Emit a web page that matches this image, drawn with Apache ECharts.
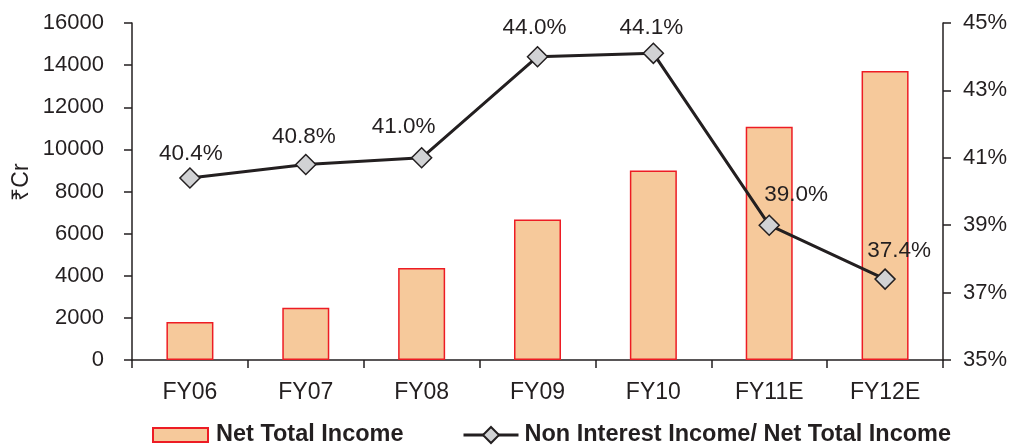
<!DOCTYPE html>
<html>
<head>
<meta charset="utf-8">
<title>Net Total Income and Non Interest Income share</title>
<script src="https://cdn.jsdelivr.net/npm/echarts@6/dist/echarts.min.js"></script>
<style>
  html, body { margin: 0; padding: 0; background: #ffffff; }
  #chart { width: 1028px; height: 447px; }
</style>
</head>
<body>
<div id="chart"></div>
<script>
// Fiscal years (E = estimate)
const categories = ['FY06', 'FY07', 'FY08', 'FY09', 'FY10', 'FY11E', 'FY12E'];
// Net Total Income, ₹ crore
const netTotalIncome = [1800, 2480, 4370, 6670, 9000, 11080, 13720];
// Non Interest Income as a share of Net Total Income, %
const nonInterestShare = [40.4, 40.8, 41.0, 44.0, 44.1, 39.0, 37.4];
// Right axis tick values, %
const shareTicks = [35, 37, 39, 41, 43, 45];

const FONT = '"Liberation Sans", Arial, Helvetica, sans-serif';
const INK = '#231f20';

// hand-placed label nudges for the ratio line, [dx, dy] from each point
const labelNudges = [[1, -24], [-2, -28], [-18, -31], [-3, -29], [-2, -26], [27, -30], [14, -28]];

const chart = echarts.init(document.getElementById('chart'), null, { renderer: 'canvas' });

const legendText = { fontFamily: FONT, fontSize: 23.5, fontWeight: 'bold', color: INK, lineHeight: 24 };

chart.setOption({
  animation: false,
  backgroundColor: '#ffffff',
  textStyle: { fontFamily: FONT, color: INK },
  grid: { left: 132, right: 85, top: 23, bottom: 87, containLabel: false },
  legend: [
    {
      data: [{ name: 'Net Total Income', icon: 'rect' }],
      left: 152, top: 423, padding: 0,
      itemWidth: 55, itemHeight: 14,
      textStyle: Object.assign({ padding: [0, 0, 0, 3] }, legendText)
    },
    {
      data: ['Non Interest Income/ Net Total Income'],
      left: 462, top: 423, padding: 0,
      itemWidth: 55, itemHeight: 20,
      lineStyle: { width: 3 },
      textStyle: Object.assign({ padding: [0, 0, 0, 1] }, legendText)
    }
  ],
  graphic: [{
    type: 'text',
    x: 22, y: 182,
    rotation: Math.PI / 2,
    style: {
      text: '₹Cr',
      font: '23px ' + FONT,
      fill: INK,
      align: 'center',
      verticalAlign: 'middle'
    }
  }],
  xAxis: {
    type: 'category',
    data: categories,
    boundaryGap: true,
    axisLine: { lineStyle: { color: INK, width: 1.5 } },
    axisTick: { show: true, inside: false, length: 8, alignWithLabel: false, lineStyle: { color: INK, width: 1.5 } },
    axisLabel: { fontFamily: FONT, fontSize: 23, color: INK, margin: 21 }
  },
  yAxis: [
    {
      type: 'value',
      min: 0, max: 16000, interval: 2000,
      axisLine: { show: true, lineStyle: { color: INK, width: 1.5 } },
      axisTick: { show: true, inside: false, length: 8, lineStyle: { color: INK, width: 1.5 } },
      axisLabel: { fontFamily: FONT, fontSize: 22, color: INK, margin: 28, formatter: v => String(v) },
      splitLine: { show: false }
    },
    {
      type: 'value',
      position: 'right',
      min: 35, max: 45,
      axisLine: { show: true, lineStyle: { color: INK, width: 1.5 } },
      axisTick: { show: true, inside: false, length: 8, customValues: shareTicks, lineStyle: { color: INK, width: 1.5 } },
      axisLabel: {
        fontFamily: FONT, fontSize: 22, color: INK, margin: 20,
        customValues: shareTicks,
        formatter: v => v + '%'
      },
      splitLine: { show: false }
    }
  ],
  series: [
    {
      name: 'Net Total Income',
      type: 'bar',
      yAxisIndex: 0,
      data: netTotalIncome,
      barWidth: 47,
      itemStyle: { color: '#f6c99b', borderColor: '#ed1c24', borderWidth: 1.5 }
    },
    {
      name: 'Non Interest Income/ Net Total Income',
      type: 'line',
      yAxisIndex: 1,
      data: nonInterestShare.map((v, i) => ({
        value: v,
        label: { offset: labelNudges[i] }
      })),
      symbol: 'diamond',
      symbolSize: 20,
      z: 5,
      lineStyle: { color: INK, width: 3 },
      itemStyle: { color: '#d1d2d4', borderColor: INK, borderWidth: 1.5 },
      label: {
        show: true,
        position: 'inside',
        fontFamily: FONT,
        fontSize: 22.5,
        color: INK,
        formatter: p => p.value.toFixed(1) + '%'
      }
    }
  ]
});
</script>
</body>
</html>
